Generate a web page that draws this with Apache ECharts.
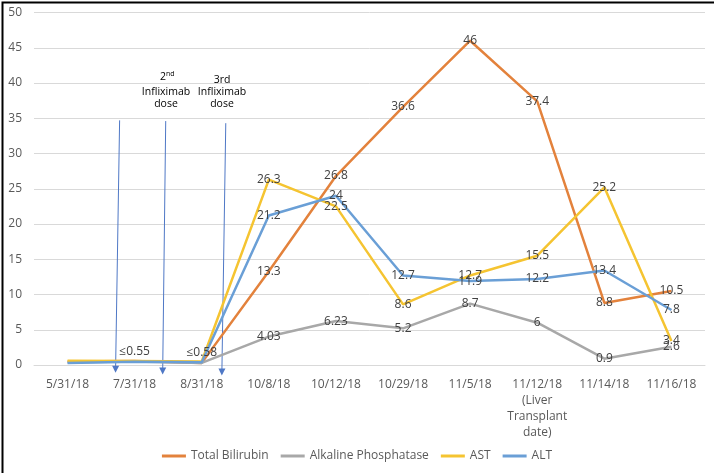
<!DOCTYPE html>
<html><head><meta charset="utf-8">
<script src="https://cdn.jsdelivr.net/npm/echarts@6/dist/echarts.min.js"></script>
<style>html,body{margin:0;padding:0;background:#fff}#c{width:714px;height:473px}</style>
</head><body><div id="c"></div>
<script>
var categories = ['5/31/18','7/31/18','8/31/18','10/8/18','10/12/18','10/29/18','11/5/18','11/12/18\n(Liver\nTransplant\ndate)','11/14/18','11/16/18'];
var bilirubin = [0.5, 0.55, 0.3, 13.3, 26.8, 36.6, 46, 37.4, 8.8, 10.5];
var alkPhos = [0.4, 0.5, 0.3, 4.03, 6.23, 5.2, 8.7, 6, 0.9, 2.6];
var ast = [0.6, 0.55, 0.5, 26.3, 22.5, 8.6, 12.7, 15.5, 25.2, 3.4];
var alt = [0.3, 0.45, 0.4, 21.2, 24, 12.7, 11.9, 12.2, 13.4, 7.8];
var lowLabels = {1: '\u22640.55', 2: '\u22640.58'};
var yTicks = [0, 5, 10, 15, 20, 25, 30, 35, 40, 45, 50];
// annotation arrows in (category position, value) space: [x1, y1, x2, y2]
var arrows = [[0.776, 34.7, 0.716, -0.6], [1.463, 34.6, 1.418, -0.85], [2.358, 34.3, 2.30, -1.0]];

var font = 'Open Sans, Liberation Sans, sans-serif';
function mk(name, vals, color, extra) {
  return {
    name: name, type: 'line', color: color,
    symbol: 'circle', symbolSize: 0, showSymbol: true,
    itemStyle: {color: color},
    lineStyle: {width: 2.5, color: color},
    emphasis: {disabled: true},
    z: 3,
    labelLayout: {hideOverlap: false},
    data: vals.map(function (v, i) {
      var d = {value: v, label: {show: i >= 3}};
      if (extra && extra[i]) d.label = {show: true, position: 'top', distance: 4, formatter: extra[i]};
      return d;
    }),
    label: {show: true, position: 'inside', color: '#404040', fontSize: 12, fontFamily: font}
  };
}
var chart = echarts.init(document.getElementById('c'));
chart.setOption({
  animation: false,
  backgroundColor: '#fff',
  grid: {left: 34, right: 9, top: 12.5, bottom: 108},
  legend: {
    bottom: 6, left: 'center', itemWidth: 24, itemHeight: 3, itemGap: 12,
    icon: 'rect',
    textStyle: {color: '#595959', fontSize: 12, fontFamily: font},
    data: ['Total Bilirubin', 'Alkaline Phosphatase', 'AST', 'ALT']
  },
  xAxis: [{
    type: 'category', data: categories, boundaryGap: true,
    axisLine: {lineStyle: {color: '#d9d9d9'}}, axisTick: {show: false},
    axisLabel: {color: '#595959', fontSize: 12, fontFamily: font, margin: 12, lineHeight: 16, interval: 0}
  }, {
    type: 'value', min: -0.5, max: 9.5, show: false
  }],
  yAxis: {
    type: 'value', min: 0, max: 50, interval: 5,
    axisLine: {show: false}, axisTick: {show: false},
    splitLine: {lineStyle: {color: '#d9d9d9'}},
    axisLabel: {color: '#595959', fontSize: 12, fontFamily: font, margin: 12,
      formatter: function (v) { return yTicks.indexOf(v) >= 0 ? String(v) : ''; }}
  },
  series: [
    mk('Total Bilirubin', bilirubin, '#E3823C', lowLabels),
    mk('Alkaline Phosphatase', alkPhos, '#A8A8A8'),
    mk('AST', ast, '#F5C431'),
    mk('ALT', alt, '#6A9FD6'),
    {
      type: 'lines', coordinateSystem: 'cartesian2d', xAxisIndex: 1, yAxisIndex: 0,
      clip: false, z: 2, silent: true,
      symbol: ['none', 'triangle'], symbolSize: [0, 7],
      lineStyle: {color: '#4F78C6', width: 1, opacity: 1},
      data: arrows.map(function (a) { return {coords: [[a[0], a[1]], [a[2], a[3]]]}; })
    }
  ],
  graphic: [
    {type: 'rect', left: 0, top: 0, shape: {width: 713, height: 472}, style: {fill: 'none', stroke: '#000', lineWidth: 2}, silent: true},
    {type: 'text', x: 166, y: 72, style: {text: '2', fill: '#000', font: '10.5px ' + font, align: 'right'}},
    {type: 'text', x: 166, y: 70, style: {text: 'nd', fill: '#000', font: '7px ' + font, align: 'left'}},
    {type: 'text', x: 166, y: 86, style: {text: 'Infliximab\ndose', fill: '#000', font: '10.5px ' + font, align: 'center', lineHeight: 12}},
    {type: 'text', x: 222, y: 74, style: {text: '3rd\nInfliximab\ndose', fill: '#000', font: '10.5px ' + font, align: 'center', lineHeight: 12}}
  ]
});
</script></body></html>
